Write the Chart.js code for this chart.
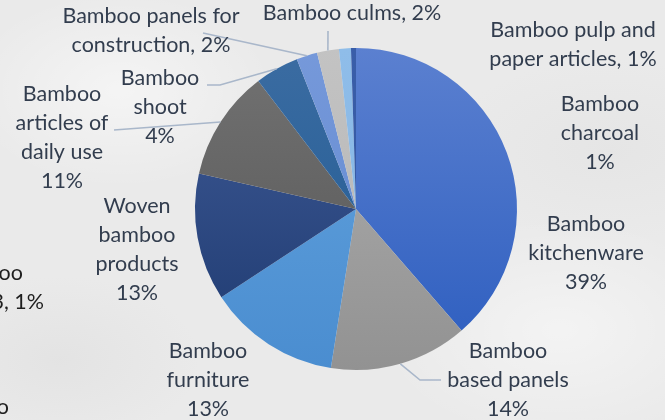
<!DOCTYPE html>
<html>
<head>
<meta charset="utf-8">
<script src="https://cdn.jsdelivr.net/npm/chart.js@4.4.1/dist/chart.umd.min.js"></script>
<style>
html,body{margin:0;padding:0;}
body{width:665px;height:420px;overflow:hidden;}
#wrap{
position:relative;width:665px;height:420px;
background:
radial-gradient(ellipse 220px 140px at 120px 90px, rgba(255,255,255,0.5), rgba(255,255,255,0) 70%),
radial-gradient(ellipse 260px 160px at 560px 330px, rgba(255,255,255,0.45), rgba(255,255,255,0) 70%),
radial-gradient(ellipse 200px 120px at 60px 360px, rgba(215,215,215,0.35), rgba(215,215,215,0) 70%),
radial-gradient(ellipse 240px 130px at 610px 150px, rgba(218,218,218,0.3), rgba(218,218,218,0) 70%),
#eaeaea;
}
</style>
</head>
<body>
<div id="wrap"><canvas id="chart" width="665" height="420"></canvas></div>
<script>

// =====================
// DATA
// =====================

let categories = [
"Bamboo kitchenware",
"Bamboo based panels",
"Bamboo furniture",
"Woven bamboo products",
"Bamboo articles of daily use",
"Bamboo shoot",
"Bamboo panels for construction",
"Bamboo culms",
"Bamboo pulp and paper articles",
"Bamboo charcoal"
];

let shares = [38.7, 13.9, 13.3, 12.8, 11.1, 4.4, 2.1, 2.2, 1.2, 0.5];

// label text split in lines, and whether the % goes on its own line
let labelLines = [
["Bamboo","kitchenware"],
["Bamboo","based panels"],
["Bamboo","furniture"],
["Woven","bamboo","products"],
["Bamboo","articles of","daily use"],
["Bamboo","shoot"],
["Bamboo panels for","construction,"],
["Bamboo culms,"],
["Bamboo pulp and","paper articles,"],
["Bamboo","charcoal"]
];
let pctOwnLine = [true,true,true,true,true,true,false,false,false,true];

// =====================
// STYLE / LAYOUT
// =====================

let fills = [
["#5b80d0","#2c5dbf"],
["#b0b0b0","#929292"],
["#64a4de","#4a8dd0"],
["#415c98","#1d396f"],
["#727272","#545454"],
["#3b6ca2","#1e5991"],
["#7699da","#5f86cf"],
["#c3c3c3","#b2b2b2"],
["#8fbde9","#82b3e3"],
["#3a5ea9","#33559c"]
];

let labelAt = [
[586,224],[508,351],[208,351],[137,206],[62,94],
[160,78],[151,16],[352,13],[573,30],[600,104]
];

// leader lines: start points, end is on the slice edge
let leaders = {
1:[[441,380],[420,380]],
4:[[114,130]],
5:[[207,85],[220,85]],
6:[[203,33]],
7:[[328,31]]
};

let textColor = "#323d4e";
let fontFamily = "Lato, 'Open Sans', sans-serif";
let lineH = 29;

// =====================
// LABEL PLUGIN
// =====================

let labelPlugin = {
id:"labels",
afterDatasetsDraw(chart){
let ctx = chart.ctx;
let arcs = chart.getDatasetMeta(0).data;
ctx.save();

// leaders
ctx.strokeStyle = "#a9b7ca";
ctx.lineWidth = 1.6;
Object.keys(leaders).forEach(k=>{
let a = arcs[k];
let mid = (a.startAngle + a.endAngle)/2;
let ex = a.x + Math.cos(mid)*a.outerRadius;
let ey = a.y + Math.sin(mid)*a.outerRadius;
let pts = leaders[k];
ctx.beginPath();
ctx.moveTo(pts[0][0],pts[0][1]);
for(let i=1;i<pts.length;i++) ctx.lineTo(pts[i][0],pts[i][1]);
ctx.lineTo(ex,ey);
ctx.stroke();
});

// texts
ctx.fillStyle = textColor;
ctx.font = "21.5px " + fontFamily;
ctx.textAlign = "center";
ctx.textBaseline = "middle";
categories.forEach((c,i)=>{
let pct = Math.round(shares[i]) + "%";
let lines = labelLines[i].slice();
if(pctOwnLine[i]) lines.push(pct);
else lines[lines.length-1] += " " + pct;
lines.forEach((t,j)=>{
ctx.fillText(t, labelAt[i][0], labelAt[i][1] + j*lineH);
});
});

// labels cut off at the left edge
ctx.fillStyle = "#1e1e1e";
ctx.textAlign = "right";
ctx.fillText("Bamboo", 23, 273);
ctx.fillText("3, 1%", 44, 302);
ctx.fillText("Bamboo", 9, 407);

ctx.restore();
}
};

// =====================
// CHART
// =====================

new Chart(document.getElementById("chart"),{
type:"pie",
data:{
labels:categories,
datasets:[{
data:shares,
borderWidth:0,
backgroundColor:(c)=>{
let f = fills[c.dataIndex];
let area = c.chart.chartArea;
if(!area) return f[0];
let g = c.chart.ctx.createLinearGradient(0,area.top,0,area.bottom);
g.addColorStop(0,f[0]);
g.addColorStop(1,f[1]);
return g;
}
}]
},
options:{
responsive:false,
animation:false,
layout:{padding:{top:48,bottom:50,left:195,right:148}},
plugins:{
legend:{display:false},
tooltip:{enabled:false}
}
},
plugins:[labelPlugin]
});

</script>
</body>
</html>
